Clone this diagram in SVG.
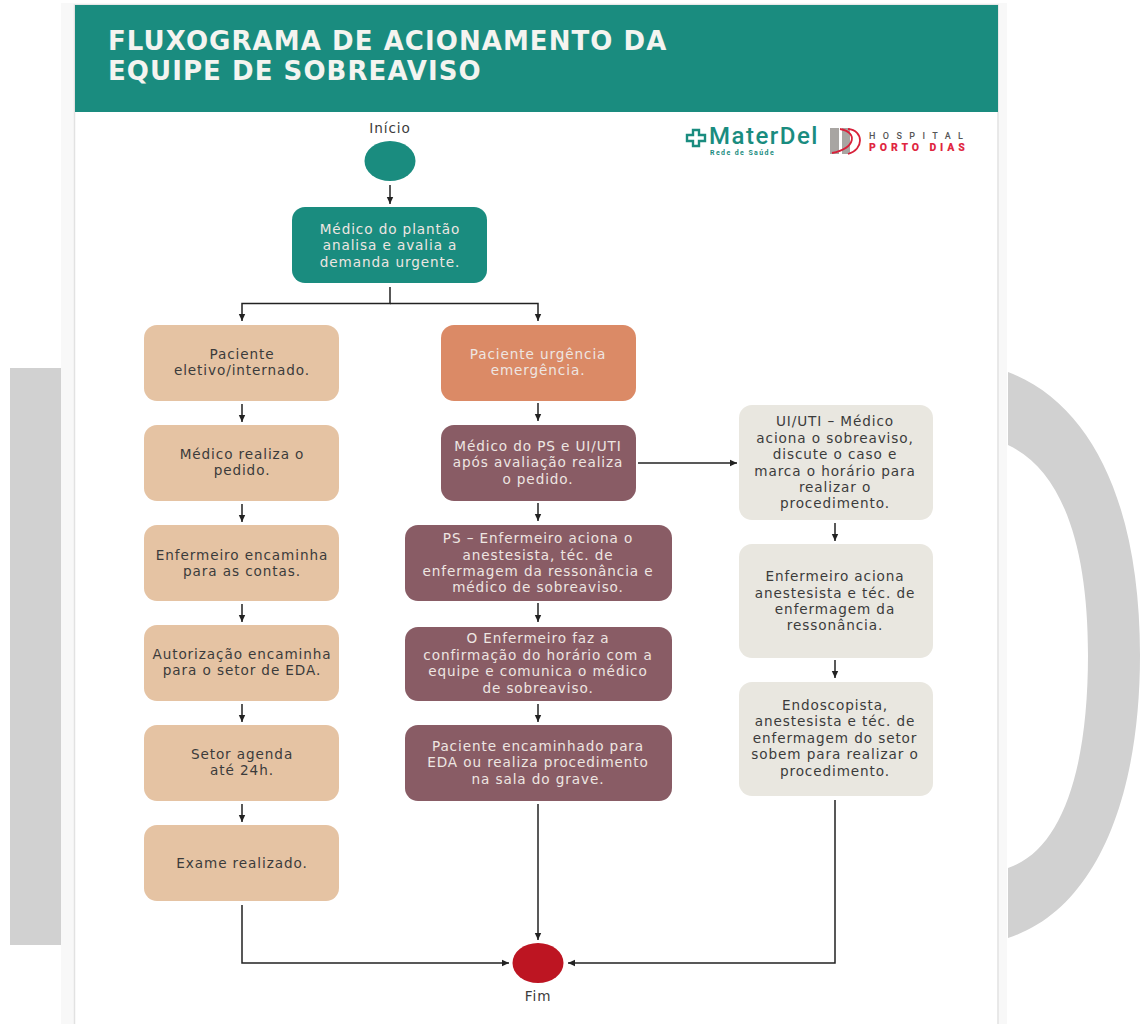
<svg xmlns="http://www.w3.org/2000/svg" width="1140" height="1024" viewBox="0 0 1140 1024">
<style>
text{font-family:"DejaVu Sans","Liberation Sans",sans-serif;font-size:13.6px;letter-spacing:.9px;text-anchor:middle}
.w{fill:#eee6e2}.d{fill:#3b3b3b}
.teal{fill:#1a8c7f}.sand{fill:#e5c3a3}.orange{fill:#db8a66}.wine{fill:#895c65}.stone{fill:#e9e7e0}
.c{fill:none;stroke:#222;stroke-width:1.5}
.t{font-size:26px;font-weight:700;text-anchor:start;fill:#f4f4f0;letter-spacing:1.07px}
.lg{font-family:"Roboto","Liberation Sans",sans-serif;text-anchor:start}
</style>
<defs><marker id="a" viewBox="0 0 7 8" refX="7" refY="4" markerWidth="7" markerHeight="8" markerUnits="userSpaceOnUse" orient="auto"><path d="M0 0.800L7 4L0 7.200Z" fill="#222"/></marker></defs>
<rect width="1140" height="1024" fill="#fff"/>
<g id="backdrop">
<rect x="10" y="368" width="51" height="577" fill="#d1d1d1"/>
<path d="M1008 372C1095 405 1140 510 1140 655C1140 800 1095 910 1008 938V868C1062 850 1088 770 1088 655C1088 545 1062 470 1008 445Z" fill="#d1d1d1"/>
<rect x="61" y="3" width="946" height="1021" fill="#f8f8f8"/>
<rect x="74.500" y="5" width="923.500" height="1030" fill="#fff" stroke="#e2e2e2" stroke-width="1.5"/>
</g>
<g id="header"><rect x="75" y="5" width="923" height="107" fill="#1a8c7f"/>
<text x="108" y="50" class="t">FLUXOGRAMA DE ACIONAMENTO DA</text>
<text x="108" y="80" class="t">EQUIPE DE SOBREAVISO</text></g>
<g id="logos">
<path d="M693 130h6v5h6v6h-6v5h-6v-5h-6v-6h6z" fill="none" stroke="#1a8c7f" stroke-width="2.400"/>
<text x="709" y="144" class="lg" style="font-size:24px;font-weight:500;fill:#1a8c7f;letter-spacing:1.500px">MaterDel</text>
<text x="710" y="155" class="lg" style="font-size:7px;font-weight:700;fill:#1a8c7f;letter-spacing:1.400px">Rede de Saúde</text>
<rect x="830" y="128" width="9" height="26" fill="#a8a5a2"/><rect x="842" y="128" width="8" height="26" fill="#a8a5a2"/>
<path d="M840 129C858 132 856 148 832 153M848 129C864 130 864 150 848 154" fill="none" stroke="#d8203a" stroke-width="1.800"/>
<text x="869" y="139" class="lg" style="font-size:9px;font-weight:500;fill:#555;letter-spacing:7.400px">HOSPITAL</text>
<text x="869" y="151" class="lg" style="font-size:10.500px;font-weight:900;fill:#e0263f;letter-spacing:3.900px">PORTO DIAS</text>
</g>
<g id="connectors" class="c">
<path d="M390 185V204" marker-end="url(#a)"/>
<path d="M390 287V303.500H242V321" marker-end="url(#a)"/>
<path d="M390 303.500H538V321" marker-end="url(#a)"/>
<path d="M242 404V422" marker-end="url(#a)"/>
<path d="M242 504V522" marker-end="url(#a)"/>
<path d="M242 604V622" marker-end="url(#a)"/>
<path d="M242 704V722" marker-end="url(#a)"/>
<path d="M242 804V822" marker-end="url(#a)"/>
<path d="M242 905V963H509" marker-end="url(#a)"/>
<path d="M538 403V421" marker-end="url(#a)"/>
<path d="M538 503V521" marker-end="url(#a)"/>
<path d="M538 603V622" marker-end="url(#a)"/>
<path d="M538 704V722" marker-end="url(#a)"/>
<path d="M538 804V940" marker-end="url(#a)"/>
<path d="M638 463H737" marker-end="url(#a)"/>
<path d="M835 523V541" marker-end="url(#a)"/>
<path d="M835 660V678" marker-end="url(#a)"/>
<path d="M835 800V963H568" marker-end="url(#a)"/>
</g>
<g id="inicio"><ellipse class="teal" cx="390" cy="161" rx="25.500" ry="20"/><text x="390" y="133" class="d">Início</text></g>
<g id="fim"><ellipse cx="538" cy="963" rx="25.500" ry="20" fill="#bd1522"/><text x="538" y="1001" class="d">Fim</text></g>
<g id="n1"><rect class="teal" x="292" y="207" width="195" height="76" rx="13"/><text x="390" y="234" class="w">Médico do plantão</text><text x="390" y="250" class="w">analisa e avalia a</text><text x="390" y="267" class="w">demanda urgente.</text></g>
<g id="l1"><rect class="sand" x="144" y="325" width="195" height="76" rx="13"/><text x="242" y="359" class="d">Paciente</text><text x="242" y="375" class="d">eletivo/internado.</text></g>
<g id="l2"><rect class="sand" x="144" y="425" width="195" height="76" rx="13"/><text x="242" y="459" class="d">Médico realiza o</text><text x="242" y="475" class="d">pedido.</text></g>
<g id="l3"><rect class="sand" x="144" y="525" width="195" height="76" rx="13"/><text x="242" y="560" class="d">Enfermeiro encaminha</text><text x="242" y="576" class="d">para as contas.</text></g>
<g id="l4"><rect class="sand" x="144" y="625" width="195" height="76" rx="13"/><text x="242" y="659" class="d">Autorização encaminha</text><text x="242" y="675" class="d">para o setor de EDA.</text></g>
<g id="l5"><rect class="sand" x="144" y="725" width="195" height="76" rx="13"/><text x="242" y="759" class="d">Setor agenda</text><text x="242" y="775" class="d">até 24h.</text></g>
<g id="l6"><rect class="sand" x="144" y="825" width="195" height="76" rx="13"/><text x="242" y="868" class="d">Exame realizado.</text></g>
<g id="m1"><rect class="orange" x="441" y="325" width="195" height="76" rx="13"/><text x="538" y="359" class="w">Paciente urgência</text><text x="538" y="375" class="w">emergência.</text></g>
<g id="m2"><rect class="wine" x="441" y="425" width="195" height="76" rx="13"/><text x="538" y="451" class="w">Médico do PS e UI/UTI</text><text x="538" y="467" class="w">após avaliação realiza</text><text x="538" y="484" class="w">o pedido.</text></g>
<g id="m3"><rect class="wine" x="405" y="525" width="267" height="76" rx="13"/><text x="538" y="543" class="w">PS – Enfermeiro aciona o</text><text x="538" y="560" class="w">anestesista, téc. de</text><text x="538" y="576" class="w">enfermagem da ressonância e</text><text x="538" y="592" class="w">médico de sobreaviso.</text></g>
<g id="m4"><rect class="wine" x="405" y="627" width="267" height="74" rx="13"/><text x="538" y="643" class="w">O Enfermeiro faz a</text><text x="538" y="660" class="w">confirmação do horário com a</text><text x="538" y="676" class="w">equipe e comunica o médico</text><text x="538" y="693" class="w">de sobreaviso.</text></g>
<g id="m5"><rect class="wine" x="405" y="725" width="267" height="76" rx="13"/><text x="538" y="751" class="w">Paciente encaminhado para</text><text x="538" y="767" class="w">EDA ou realiza procedimento</text><text x="538" y="784" class="w">na sala do grave.</text></g>
<g id="r1"><rect class="stone" x="739" y="405" width="194" height="115" rx="13"/><text x="835" y="426" class="d">UI/UTI – Médico</text><text x="835" y="443" class="d">aciona o sobreaviso,</text><text x="835" y="459" class="d">discute o caso e</text><text x="835" y="476" class="d">marca o horário para</text><text x="835" y="492" class="d">realizar o</text><text x="835" y="508" class="d">procedimento.</text></g>
<g id="r2"><rect class="stone" x="739" y="544" width="194" height="114" rx="13"/><text x="835" y="581" class="d">Enfermeiro aciona</text><text x="835" y="598" class="d">anestesista e téc. de</text><text x="835" y="614" class="d">enfermagem da</text><text x="835" y="630" class="d">ressonância.</text></g>
<g id="r3"><rect class="stone" x="739" y="682" width="194" height="114" rx="13"/><text x="835" y="710" class="d">Endoscopista,</text><text x="835" y="726" class="d">anestesista e téc. de</text><text x="835" y="743" class="d">enfermagem do setor</text><text x="835" y="759" class="d">sobem para realizar o</text><text x="835" y="776" class="d">procedimento.</text></g>
</svg>
